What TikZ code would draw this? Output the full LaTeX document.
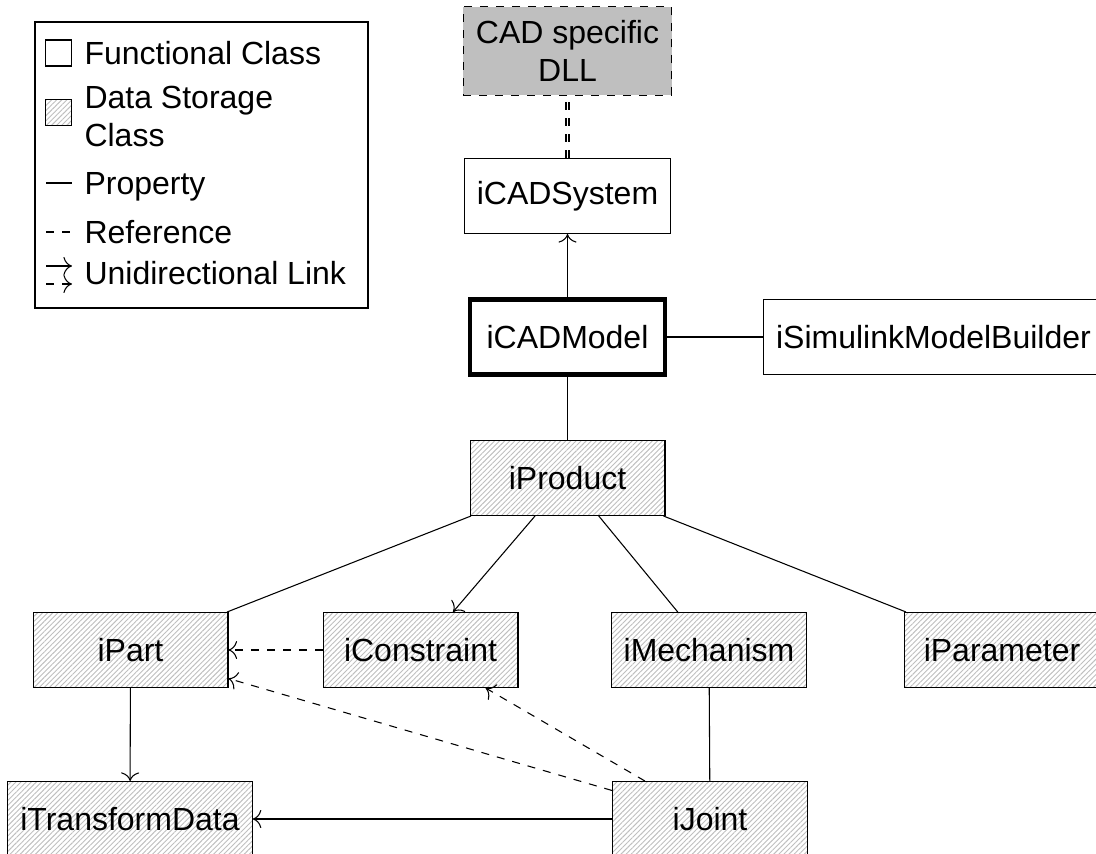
\documentclass[tikz,border=0pt]{standalone}
\usepackage{fontspec}
\setmainfont{Liberation Sans}
\usetikzlibrary{patterns.meta, arrows.meta}

\begin{document}
\begin{tikzpicture}[
  x=0.375pt, y=-0.375pt,
  >={To[scale=1.3]},
  every node/.style={font=\fontsize{12pt}{14.4pt}\selectfont},
  cls/.style={draw, rectangle, minimum width=73.1pt, minimum height=28.1pt,
              inner xsep=4.7pt, inner ysep=5pt, align=center},
  hatchfill/.style={pattern={Lines[angle=45,distance=1.35pt,line width=0.35pt]},
                    pattern color=black!25},
  funcbox/.style={cls, fill=white},
  databox/.style={cls, hatchfill},
  dllbox/.style={cls, dashed, fill=black!25},
  mainbox/.style={funcbox, line width=1.6pt},
  link/.style={->},
  dlllink/.style={double, thick, dashed},
  legtext/.style={anchor=base west, inner sep=0pt},
  legicon/.style={draw, rectangle, minimum size=9.75pt, inner sep=0pt}
]
\useasboundingbox (0,0) rectangle (1096,854);
\clip (0,0) rectangle (1096,854);

% ---------- legend ----------
\draw (35,22) rectangle (368,308);
\node[legicon, fill=white] (lgfunc) at (58.5,53) {};
\node[legicon, hatchfill] (lgdata) at (58.5,112.5) {};
\node[legtext] (lgfunctxt) at (84,64.3) {Functional Class};
\node[legtext] (lgdatatxt) at (84,108.3)
  {\begin{tabular}[t]{@{}l@{}}Data Storage\\Class\end{tabular}};
\node[legtext] (lgproptxt) at (84,194.5) {Property};
\node[legtext] (lgreftxt) at (84,243.5) {Reference};
\node[legtext] (lglinktxt) at (84,285) {Unidirectional Link};
\coordinate (lgpropA) at (46,183);   \coordinate (lgpropB) at (72,183);
\coordinate (lgrefA)  at (46,232);   \coordinate (lgrefB)  at (72,232);
\coordinate (lglinkA) at (46,266);   \coordinate (lglinkB) at (72,266);
\coordinate (lgdlnkA) at (46,284);   \coordinate (lgdlnkB) at (72,284);
\draw (lgpropA) -- (lgpropB);
\draw[dashed] (lgrefA) -- (lgrefB);
\draw[->] (lglinkA) -- (lglinkB);
\draw[->, dashed] (lgdlnkA) -- (lgdlnkB);

% ---------- classes ----------
\node[dllbox]  (dll)        at (567.5,51)  {CAD specific\\DLL};
\node[funcbox] (icadsystem) at (567.5,196) {iCADSystem};
\node[mainbox] (icadmodel)  at (567.5,337) {iCADModel};
\node[funcbox, anchor=west] (isim) at (763,337) {iSimulinkModelBuilder};
\node[databox] (iproduct)   at (567.5,478) {iProduct};
\node[databox] (ipart)      at (130.5,650) {iPart};
\node[databox] (iconstraint) at (420.5,650) {iConstraint};
\node[databox] (imechanism) at (709,650)   {iMechanism};
\node[databox] (iparameter) at (1002,650)  {iParameter};
\node[databox] (itransform) at (130,819)   {iTransformData};
\node[databox] (ijoint)     at (710,819)   {iJoint};

% ---------- connections ----------
\draw[dlllink] (icadsystem) -- (dll);
\draw[link] (icadmodel) -- (icadsystem);
\draw (icadmodel) -- (isim);
\draw (icadmodel) -- (iproduct);
\draw (iproduct) -- (ipart);
\draw[link] (iproduct) -- (iconstraint);
\draw (iproduct) -- (imechanism);
\draw (iproduct) -- (iparameter);
\draw[link, dashed] (iconstraint) -- (ipart);
\draw[link, dashed] (ijoint) -- (ipart);
\draw[link, dashed] (ijoint) -- (iconstraint);
\draw (imechanism) -- (ijoint);
\draw[link] (ipart) -- (itransform);
\draw[link] (ijoint) -- (itransform);
\end{tikzpicture}
\end{document}
